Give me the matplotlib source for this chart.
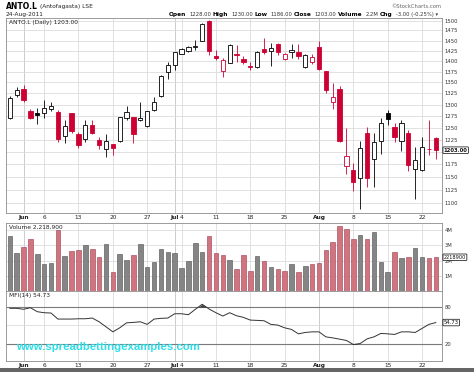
import numpy as np
import pandas as pd
import matplotlib
matplotlib.use('Agg')
import matplotlib.pyplot as plt
import matplotlib.transforms as mtransforms
from matplotlib.ticker import NullLocator, NullFormatter

# LSE trading days, 30 May 2011 was a bank holiday
days = pd.bdate_range('2011-05-27', '2011-08-24')
days = days[days != pd.Timestamp('2011-05-30')]

opens = [1270, 1321, 1336, 1287, 1281, 1281, 1290, 1284, 1232, 1281,
         1237, 1227, 1256, 1225, 1205, 1215, 1222, 1270, 1273, 1266,
         1253, 1288, 1320, 1375, 1392, 1418, 1424, 1434, 1450, 1498,
         1413, 1377, 1396, 1417, 1405, 1389, 1387, 1430, 1424, 1441,
         1405, 1421, 1422, 1385, 1397, 1434, 1376, 1307, 1336, 1172,
         1163, 1148, 1238, 1186, 1222, 1281, 1252, 1221, 1238, 1165,
         1163, 1205, 1228]
highs = [1320, 1340, 1345, 1291, 1292, 1311, 1305, 1288, 1267, 1282,
         1240, 1267, 1267, 1230, 1236, 1216, 1273, 1298, 1274, 1307,
         1287, 1316, 1368, 1399, 1423, 1432, 1437, 1451, 1495, 1502,
         1428, 1408, 1442, 1438, 1412, 1397, 1425, 1456, 1443, 1444,
         1420, 1441, 1441, 1416, 1417, 1450, 1377, 1348, 1343, 1249,
         1177, 1221, 1251, 1238, 1270, 1288, 1260, 1267, 1246, 1209,
         1231, 1266, 1230]
lows = [1268, 1317, 1307, 1268, 1258, 1270, 1287, 1219, 1218, 1238,
        1208, 1220, 1237, 1206, 1189, 1194, 1220, 1266, 1218, 1264,
        1252, 1286, 1318, 1358, 1380, 1416, 1423, 1427, 1448, 1414,
        1402, 1362, 1395, 1398, 1393, 1379, 1384, 1418, 1388, 1414,
        1403, 1407, 1405, 1383, 1393, 1378, 1327, 1291, 1220, 1155,
        1123, 1088, 1130, 1129, 1196, 1256, 1220, 1201, 1161, 1108,
        1162, 1194, 1186]
closes = [1314, 1332, 1311, 1271, 1277, 1292, 1296, 1227, 1254, 1242,
          1213, 1255, 1239, 1213, 1222, 1208, 1272, 1283, 1237, 1270,
          1285, 1305, 1366, 1392, 1421, 1430, 1434, 1437, 1492, 1424,
          1408, 1403, 1438, 1415, 1397, 1385, 1423, 1421, 1431, 1422,
          1417, 1426, 1412, 1414, 1410, 1382, 1333, 1316, 1222, 1192,
          1139, 1207, 1148, 1220, 1259, 1268, 1230, 1259, 1173, 1184,
          1209, 1206, 1203]
close_before = 1290

volume_m = [3.62, 2.52, 2.89, 3.40, 2.43, 1.78, 1.84, 4.01, 2.28, 2.61,
            2.68, 3.01, 2.78, 2.24, 3.11, 1.27, 2.43, 2.06, 2.39, 3.09,
            1.56, 1.89, 2.74, 2.57, 2.50, 1.51, 1.99, 3.18, 2.55, 3.62,
            2.50, 2.35, 2.02, 1.43, 2.37, 1.34, 2.32, 1.99, 1.60, 1.45,
            1.32, 1.76, 1.27, 1.64, 1.76, 1.82, 2.70, 3.20, 4.28, 4.06,
            3.44, 3.70, 3.42, 3.90, 1.93, 1.25, 2.57, 2.19, 2.24, 2.83,
            2.22, 2.17, 2.2189]

mfi = [78.3, 78.3, 76.7, 79.3, 72.7, 71.0, 70.5, 60.5, 60.5, 60.5,
       61.0, 61.0, 62.2, 56.0, 47.7, 39.3, 46.0, 54.3, 55.0, 56.0,
       51.7, 60.5, 61.7, 62.2, 69.3, 69.3, 67.7, 76.7, 85.0, 77.2,
       71.0, 65.5, 71.0, 66.0, 63.3, 58.8, 58.3, 57.7, 51.7, 50.5,
       46.0, 43.3, 36.0, 38.3, 39.3, 39.3, 31.0, 29.3, 27.2, 25.0,
       18.3, 20.0, 27.7, 31.0, 36.7, 36.0, 35.0, 39.3, 39.3, 38.3,
       45.0, 51.7, 54.73]

price_ticks = list(range(1100, 1501, 25))
vol_ticks = [1, 2, 3, 4]
mfi_ticks = [20, 80]

W, H = 474, 372
RED = '#cc0033'
GRID = '#dcdcdc'
SPINE = '#8c8c8c'

x = np.arange(len(days))
prev = np.array([close_before] + closes[:-1])
o, h, l, c = map(np.array, (opens, highs, lows, closes))
down = c < prev

# tick positions: month starts (bold) and mondays
tick_pos, tick_lab, tick_bold = [], [], []
for i, d in enumerate(days):
    if i > 0 and d.month != days[i - 1].month:
        tick_pos.append(i); tick_lab.append(d.strftime('%b')); tick_bold.append(True)
    elif d.weekday() == 0:
        tick_pos.append(i); tick_lab.append(str(d.day)); tick_bold.append(False)


def box(top, bottom, left=6, right=442):
    return [left / W, 1 - bottom / H, (right - left) / W, (bottom - top) / H]


fig = plt.figure(figsize=(W / 100, H / 100), dpi=100)
fig.patch.set_facecolor('white')

ax = fig.add_axes(box(17.5, 213))
axv = fig.add_axes(box(223, 291))
axm = fig.add_axes(box(291, 361))

for a in (ax, axv, axm):
    a.set_xlim(-0.55, 62.9)
    for s in a.spines.values():
        s.set_color(SPINE)
        s.set_linewidth(0.6)
    a.yaxis.tick_right()
    a.tick_params(axis='y', length=0, pad=2, labelsize=3.8, labelcolor='#333333')
    a.tick_params(axis='x', length=0, pad=1.5, labelsize=4.2, labelcolor='#222222')
    a.set_xticks(tick_pos)
    a.set_xticklabels(tick_lab)
    for lab, b in zip(a.get_xticklabels(), tick_bold):
        if b:
            lab.set_fontweight('bold')
    for p, b in zip(tick_pos, tick_bold):
        a.axvline(p, color='#c4c4c4' if b else GRID, lw=0.6, zorder=0)
axv.set_xticklabels([])

# price panel (log scale)
ax.set_yscale('log')
ax.set_ylim(1081, 1508)
ax.yaxis.set_minor_locator(NullLocator())
ax.yaxis.set_minor_formatter(NullFormatter())
ax.set_yticks(price_ticks)
# the 1200 label sits under the last-close box
ax.set_yticklabels(['' if t == 1200 else str(t) for t in price_ticks])
for t in price_ticks:
    ax.axhline(t, color=GRID, lw=0.6, zorder=0)

for i in x:
    filled = c[i] < o[i]
    edge = RED if down[i] else 'black'
    if filled:
        face = RED if down[i] else 'black'
    else:
        face = 'white'
    ax.vlines(i, l[i], h[i], color=edge, lw=0.6, zorder=2)
    lo, hi = min(o[i], c[i]), max(o[i], c[i])
    ax.bar(i, max(hi - lo, 0.8), bottom=lo, width=0.62, color=face,
           edgecolor=edge, linewidth=0.6, zorder=3)

ax.text(0.006, 0.985, 'ANTO.L (Daily) 1203.00', transform=ax.transAxes,
        ha='left', va='top', fontsize=4.2, color='#222222')
tr = mtransforms.blended_transform_factory(ax.transAxes, ax.transData)
ax.text(1.004, closes[-1], '%.2f' % closes[-1], transform=tr, ha='left', va='center',
        fontsize=3.8, fontweight='bold', color='#111111', clip_on=False,
        bbox=dict(boxstyle='round,pad=0.15', fc='white', ec='black', lw=0.5))

# volume panel
vcol = np.where(down, '#d07480', '#858585')
vedge = np.where(down, '#9c3c4c', '#4d4d4d')
axv.bar(x, volume_m, width=0.66, color=vcol, edgecolor=vedge, linewidth=0.4, zorder=2)
axv.set_ylim(0, 4.47)
axv.set_yticks(vol_ticks)
axv.set_yticklabels(['%dM' % v for v in vol_ticks])
for v in vol_ticks:
    axv.axhline(v, color=GRID, lw=0.6, zorder=0)
axv.text(0.006, 0.97, 'Volume 2,218,900', transform=axv.transAxes,
         ha='left', va='top', fontsize=4.2, color='#222222')
trv = mtransforms.blended_transform_factory(axv.transAxes, axv.transData)
axv.text(1.004, volume_m[-1], '2218900', transform=trv, ha='left', va='center',
         fontsize=3.6, color='#111111', clip_on=False,
         bbox=dict(boxstyle='round,pad=0.15', fc='white', ec='black', lw=0.5))

# MFI panel
axm.set_ylim(-9, 107)
axm.set_yticks(mfi_ticks)
axm.axhline(80, color='#7a7a7a', lw=0.8, zorder=1)
axm.axhline(20, color='#7a7a7a', lw=0.8, zorder=1)
axm.axhline(50, color=GRID, lw=0.6, zorder=0)
mfi_arr = np.array(mfi)
axm.fill_between(x, mfi_arr, 80, where=mfi_arr > 80, interpolate=True, color='#444444', lw=0)
axm.fill_between(x, mfi_arr, 20, where=mfi_arr < 20, interpolate=True, color='#444444', lw=0)
axm.plot(x, mfi, color='#333333', lw=0.7, zorder=3)
axm.text(0.006, 0.97, 'MFI(14) 54.73', transform=axm.transAxes,
         ha='left', va='top', fontsize=4.2, color='#222222')
trm = mtransforms.blended_transform_factory(axm.transAxes, axm.transData)
axm.text(1.004, mfi[-1], '54.73', transform=trm, ha='left', va='center',
         fontsize=3.8, color='#111111', clip_on=False,
         bbox=dict(boxstyle='round,pad=0.15', fc='white', ec='black', lw=0.5))
axm.text(0.022, 0.2, 'www.spreadbettingexamples.com', transform=axm.transAxes,
         ha='left', va='center', fontsize=8.2, fontweight='bold',
         family='Liberation Sans', color='#2fdfe8', zorder=5)

# header
fig.canvas.draw()
r = fig.canvas.get_renderer()
t = fig.text(6 / W, 1 - 6.5 / H, 'ANTO.L', fontsize=5.5, fontweight='bold', va='center', ha='left')
bb = t.get_window_extent(renderer=r)
fig.text((bb.x1 + 2) / W, 1 - 6.5 / H, '(Antofagasta) LSE', fontsize=4.2, va='center',
         ha='left', color='#222222')
fig.text(6 / W, 1 - 14.5 / H, '24-Aug-2011', fontsize=4.2, va='center', ha='left', color='#222222')
fig.text(441 / W, 1 - 6 / H, '\u00a9StockCharts.com', fontsize=3.8, va='center', ha='right', color='#666666')

pieces = [('Open', True), ('1228.00', False), ('High', True), ('1230.00', False),
          ('Low', True), ('1186.00', False), ('Close', True), ('1203.00', False),
          ('Volume', True), ('2.2M', False), ('Chg', True), ('-3.00 (-0.25%) \u25be', False)]
xr = 438
for txt, bold in reversed(pieces):
    t = fig.text(xr / W, 1 - 14.5 / H, txt, fontsize=4.2 if bold else 3.8,
                 fontweight='bold' if bold else 'normal', va='center', ha='right',
                 color='black' if bold else '#333333')
    bb = t.get_window_extent(renderer=r)
    xr -= bb.width + (3 if not bold else 1.5)

# bottom strip
fig.add_artist(plt.Rectangle((0, 0), 1, 4 / H, transform=fig.transFigure,
                             color='#666666', lw=0))

fig.savefig('out.png', dpi=100)
